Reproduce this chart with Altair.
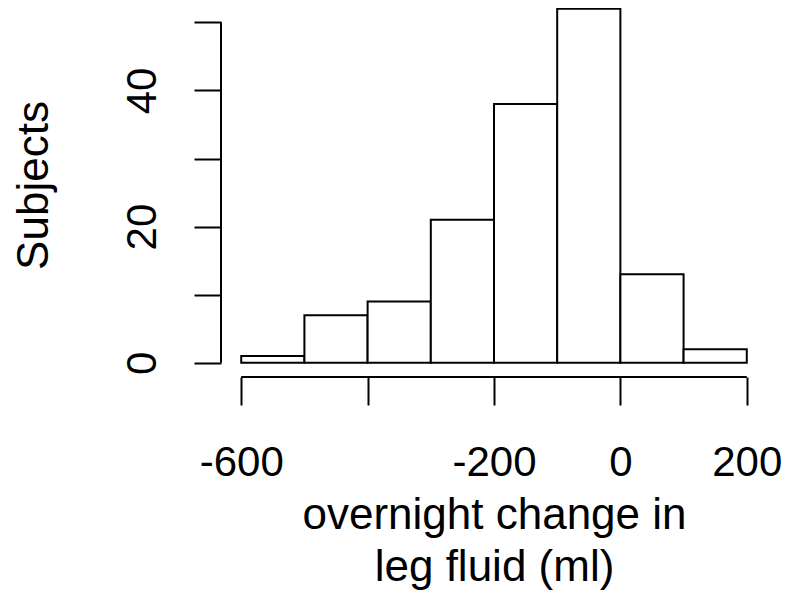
import altair as alt
import pandas as pd

# Histogram data
bin_starts = [-600, -500, -400, -300, -200, -100, 0, 100]
bin_width = 100
counts = [1, 7, 9, 21, 38, 52, 13, 2]
x_ticks = [-600, -400, -200, 0, 200]
y_ticks = [0, 10, 20, 30, 40, 50]
x_domain = [-632, 232]
y_domain = [-2.08, 52.1]
x_title = ["overnight change in", "leg fluid (ml)"]
y_title = "Subjects"

df = pd.DataFrame({
    "start": bin_starts,
    "end": [s + bin_width for s in bin_starts],
    "count": counts,
    "base": [0] * len(counts),
})
xaxis_df = pd.DataFrame({"start": [x_ticks[0]], "end": [x_ticks[-1]]})
yaxis_df = pd.DataFrame({"count": [y_ticks[-1]], "base": [y_ticks[0]]})

W, H = 546, 369
FONT = "Liberation Sans"

xscale = alt.Scale(domain=x_domain, nice=False, zero=False)
yscale = alt.Scale(domain=y_domain, nice=False, zero=False)

x_axis = alt.Axis(
    values=x_ticks, domain=False, grid=False,
    tickSize=28, tickWidth=2, tickColor="black",
    labelExpr="datum.value == -400 ? '' : '' + datum.value",
    labelFontSize=42, labelFont=FONT, labelColor="black",
    labelBaseline="alphabetic", labelAlign="center", labelPadding=70,
    labelOverlap=False, labelFlush=False, labelBound=False,
    title=x_title, titleFont=FONT, titleFontSize=44, titleFontWeight="normal",
    titleColor="black", titleLineHeight=52, titleBaseline="alphabetic",
    titleAlign="center", titleY=151, titleX=273,
)
y_axis = alt.Axis(
    values=y_ticks, domain=False, grid=False,
    tickSize=27, tickWidth=2, tickColor="black",
    labelExpr="datum.value % 20 == 0 ? '' + datum.value : ''",
    labelFontSize=42, labelFont=FONT, labelColor="black",
    labelAngle=270, labelBaseline="alphabetic", labelAlign="center", labelPadding=39,
    labelOverlap=False, labelFlush=False, labelBound=False,
    title=y_title, titleFont=FONT, titleFontSize=44, titleFontWeight="normal",
    titleColor="black", titleAngle=270, titleBaseline="alphabetic",
    titleAlign="center", titleX=-174, titleY=177,
)

bars = alt.Chart(df).mark_rect(fill="white", stroke="black", strokeWidth=2).encode(
    x=alt.X("start:Q", scale=xscale, axis=x_axis),
    x2="end:Q",
    y=alt.Y("count:Q", scale=yscale, axis=y_axis),
    y2="base:Q",
)

y_line = alt.Chart(yaxis_df).mark_rule(color="black", strokeWidth=2).encode(
    x=alt.value(0),
    y=alt.Y("count:Q", scale=yscale, axis=y_axis),
    y2="base:Q",
)
x_line = alt.Chart(xaxis_df).mark_rule(color="black", strokeWidth=2).encode(
    x=alt.X("start:Q", scale=xscale, axis=x_axis),
    x2="end:Q",
    y=alt.value(H),
)

chart = alt.layer(bars, y_line, x_line).properties(
    width=W, height=H,
    autosize=alt.AutoSizeParams(type="none"),
    padding={"left": 213, "top": 0, "right": 15, "bottom": 214},
    background="white",
).configure_view(stroke=None)

chart.save("out.html", embed_options={"renderer": "svg", "actions": False})
